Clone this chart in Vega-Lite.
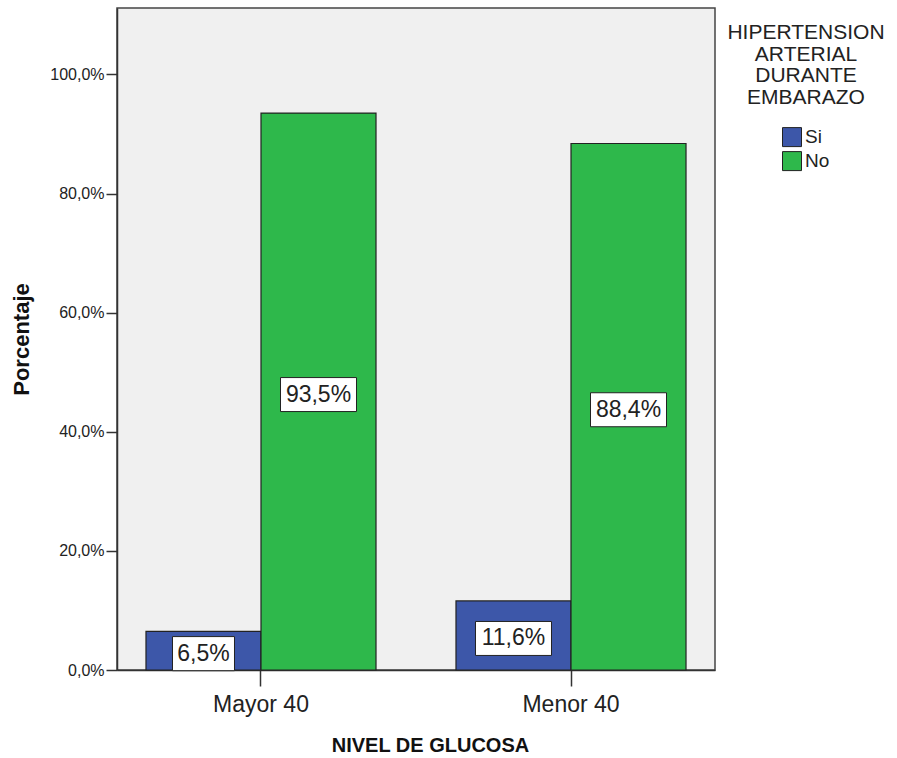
{
  "$schema": "https://vega.github.io/schema/vega-lite/v6.json",
  "width": 598,
  "height": 662,
  "autosize": {"type": "none"},
  "padding": {"left": 117, "top": 8, "right": 182, "bottom": 88},
  "config": {
    "font": "Liberation Sans",
    "view": {"fill": "#f0f0f0", "stroke": "#444", "strokeWidth": 1.5},
    "axis": {"labelColor": "#222", "titleColor": "#111", "domainColor": "#333", "tickColor": "#333", "grid": false}
  },
  "data": {
    "values": [
      {"nivel": "Mayor 40", "hip": "Si", "pct": 6.5},
      {"nivel": "Mayor 40", "hip": "No", "pct": 93.5},
      {"nivel": "Menor 40", "hip": "Si", "pct": 11.6},
      {"nivel": "Menor 40", "hip": "No", "pct": 88.4}
    ]
  },
  "transform": [
    {"calculate": "datum.pct / 2", "as": "mid"},
    {"calculate": "replace(format(datum.pct, '.1f'), '.', ',') + '%'", "as": "lbl"}
  ],
  "encoding": {
    "x": {
      "field": "nivel", "type": "nominal", "sort": ["Mayor 40", "Menor 40"],
      "scale": {"paddingInner": 0.258, "paddingOuter": 0.0935},
      "axis": {"title": "NIVEL DE GLUCOSA", "titleX": 313, "labelAngle": 0, "labelFontSize": 23, "labelPadding": 7, "tickSize": 16, "tickWidth": 1.5, "domainWidth": 1.5, "titleFontSize": 20, "titleFontWeight": "bold", "titlePadding": 19}
    },
    "xOffset": {"field": "hip", "type": "nominal", "sort": ["Si", "No"], "scale": {"paddingInner": 0, "paddingOuter": 0}}
  },
  "layer": [
    {
      "mark": {"type": "bar", "stroke": "#222", "strokeWidth": 1.2},
      "encoding": {
        "y": {
          "field": "pct", "type": "quantitative",
          "scale": {"domain": [0, 111.15], "nice": false},
          "axis": {"title": "Porcentaje", "values": [0, 20, 40, 60, 80, 100], "labelExpr": "replace(format(datum.value, '.1f'), '.', ',') + '%'", "labelFontSize": 16, "labelPadding": 2, "tickSize": 11, "tickWidth": 1.5, "domainWidth": 1.5, "titleFontSize": 22, "titleFontWeight": "bold", "titlePadding": 16}
        },
        "color": {
          "field": "hip", "type": "nominal", "sort": ["Si", "No"],
          "scale": {"domain": ["Si", "No"], "range": ["#3d57a9", "#2eb84b"]},
          "legend": {
            "title": ["HIPERTENSION", "ARTERIAL", "DURANTE", "EMBARAZO"],
            "orient": "right", "offset": -2, "padding": 14,
            "titleFontSize": 21, "titleFontWeight": "normal", "titleColor": "#222",
            "titleLineHeight": 21.7, "titleAlign": "center", "titleAnchor": "middle", "titlePadding": 19,
            "symbolType": "square", "symbolSize": 361, "symbolStrokeColor": "#222", "symbolStrokeWidth": 1, "symbolOpacity": 1,
            "labelFontSize": 19, "labelColor": "#222", "labelOffset": 3, "rowPadding": 0
          }
        }
      }
    },
    {
      "mark": {"type": "point", "filled": true, "fill": "white", "stroke": "#222", "strokeWidth": 1, "opacity": 1, "yOffset": 3},
      "encoding": {
        "y": {"field": "mid", "type": "quantitative"},
        "shape": {"condition": {"test": "datum.pct < 10", "value": "M-1,-0.55L1,-0.55L1,0.55L-1,0.55Z"}, "value": "M-1,-0.447L1,-0.447L1,0.447L-1,0.447Z"},
        "size": {"condition": {"test": "datum.pct < 10", "value": 3844}, "value": 5776}
      }
    },
    {
      "mark": {"type": "text", "fontSize": 23, "color": "#222", "baseline": "middle", "align": "center", "yOffset": 3},
      "encoding": {
        "y": {"field": "mid", "type": "quantitative"},
        "text": {"field": "lbl", "type": "nominal"}
      }
    }
  ]
}
